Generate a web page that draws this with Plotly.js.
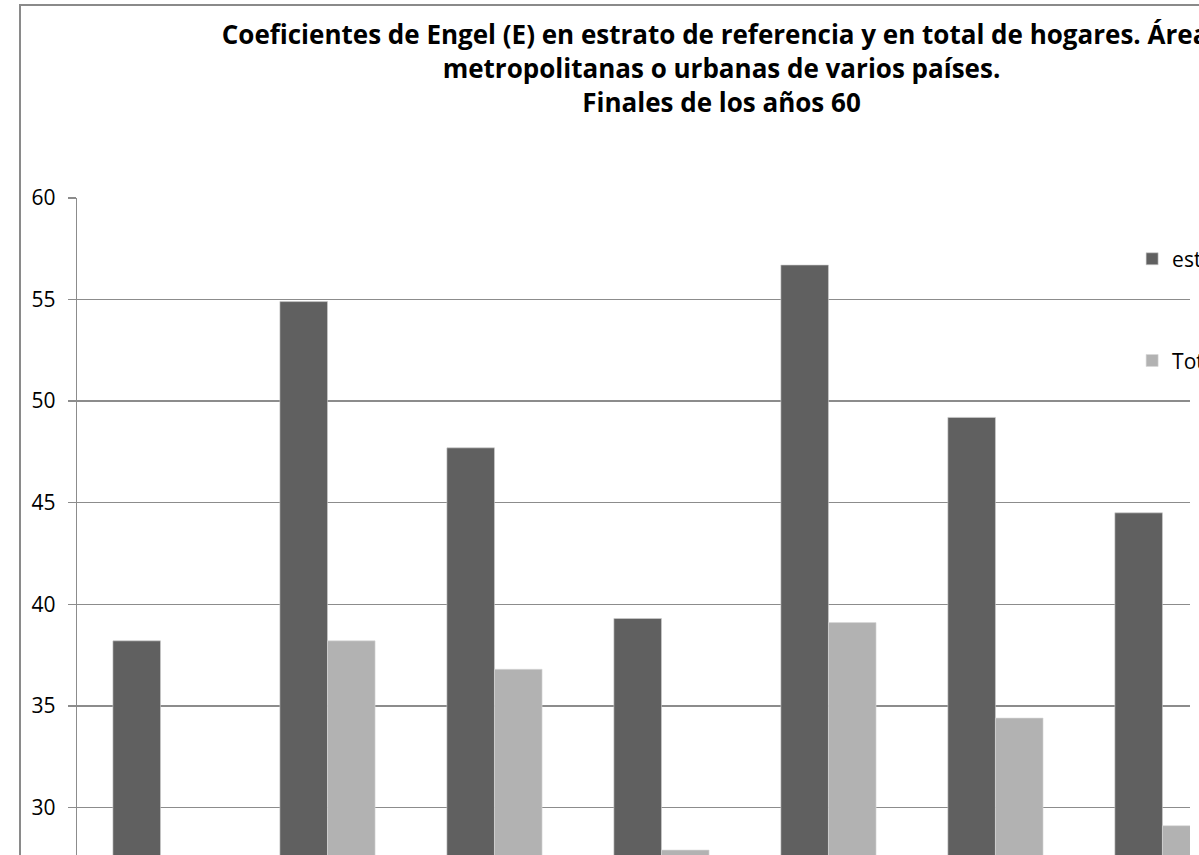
<!DOCTYPE html>
<html>
<head>
<meta charset="utf-8">
<script src="https://cdn.plot.ly/plotly-3.0.1.min.js"></script>
<style>
  html, body { margin: 0; padding: 0; background: #fff; overflow: hidden; width: 1199px; height: 855px; }
  #frame { position: absolute; left: 19px; top: 4px; border-left: 2px solid #8a8a8a; border-top: 2px solid #8a8a8a; }
  #chart { width: 1401px; height: 963px; }
</style>
</head>
<body>
<div id="frame"><div id="chart"></div></div>
<script>
// Data
const categories = ["País 1", "País 2", "País 3", "País 4", "País 5", "País 6", "País 7"];
const estratoReferencia = [38.2, 54.9, 47.7, 39.3, 56.7, 49.2, 44.5];
const totalHogares = [null, 38.2, 36.8, 27.9, 39.1, 34.4, 29.1];
const seriesNames = ["estrato de referencia", "Total de hogares"];
const yTicks = [30, 35, 40, 45, 50, 55, 60];
const titleLines = [
  "Coeficientes de Engel (E) en estrato de referencia y en total de hogares. Áreas",
  "metropolitanas o urbanas de varios países.",
  "Finales de los años 60"
];

const traces = [
  {
    type: "bar", name: seriesNames[0], x: categories, y: estratoReferencia,
    marker: { color: "#606060", line: { color: "#cfcfcf", width: 0.6 } },
    legend: "legend", hoverinfo: "x+y+name"
  },
  {
    type: "bar", name: seriesNames[1], x: categories, y: totalHogares,
    marker: { color: "#b2b2b2", line: { color: "#d8d8d8", width: 0.6 } },
    legend: "legend2", hoverinfo: "x+y+name"
  }
];

const baseFont = "'Open Sans', Lato, sans-serif";
const legendFont = { family: baseFont, size: 21, color: "#000" };

const layout = {
  width: 1401, height: 963,
  margin: { l: 56, r: 232, t: 192, b: 60 },
  paper_bgcolor: "#fff", plot_bgcolor: "#fff",
  barmode: "group", bargap: 0.43, bargroupgap: 0,
  font: { family: baseFont, color: "#000" },
  title: {
    text: "<b>" + titleLines.join("<br>") + "</b>",
    font: { family: baseFont, size: 26, color: "#000" },
    x: 0.5, xref: "container", xanchor: "center",
    y: 1, yref: "container", yanchor: "top", pad: { t: 38 }
  },
  xaxis: {
    type: "category", range: [-0.5, 6.165], showgrid: false, zeroline: false,
    showline: false, ticks: "", showticklabels: false, fixedrange: true
  },
  yaxis: {
    range: [25, 60], tickvals: yTicks, ticktext: yTicks.map(String),
    showgrid: true, gridcolor: "#8c8c8c", gridwidth: 1.3,
    zeroline: false, showline: true, linecolor: "#8c8c8c", linewidth: 1.3,
    ticks: "outside", ticklen: 8, tickcolor: "#8c8c8c", tickwidth: 1.3,
    tickfont: { family: baseFont, size: 21, color: "#000" },
    ticklabelstandoff: 8, fixedrange: true
  },
  legend: {
    x: 0.948, xanchor: "left", y: 0.914, yanchor: "middle",
    font: legendFont, bgcolor: "rgba(0,0,0,0)", borderwidth: 0
  },
  legend2: {
    x: 0.948, xanchor: "left", y: 0.771, yanchor: "middle",
    font: legendFont, bgcolor: "rgba(0,0,0,0)", borderwidth: 0
  },
  showlegend: true
};

Plotly.newPlot("chart", traces, layout, { displayModeBar: false, staticPlot: true });
</script>
</body>
</html>
